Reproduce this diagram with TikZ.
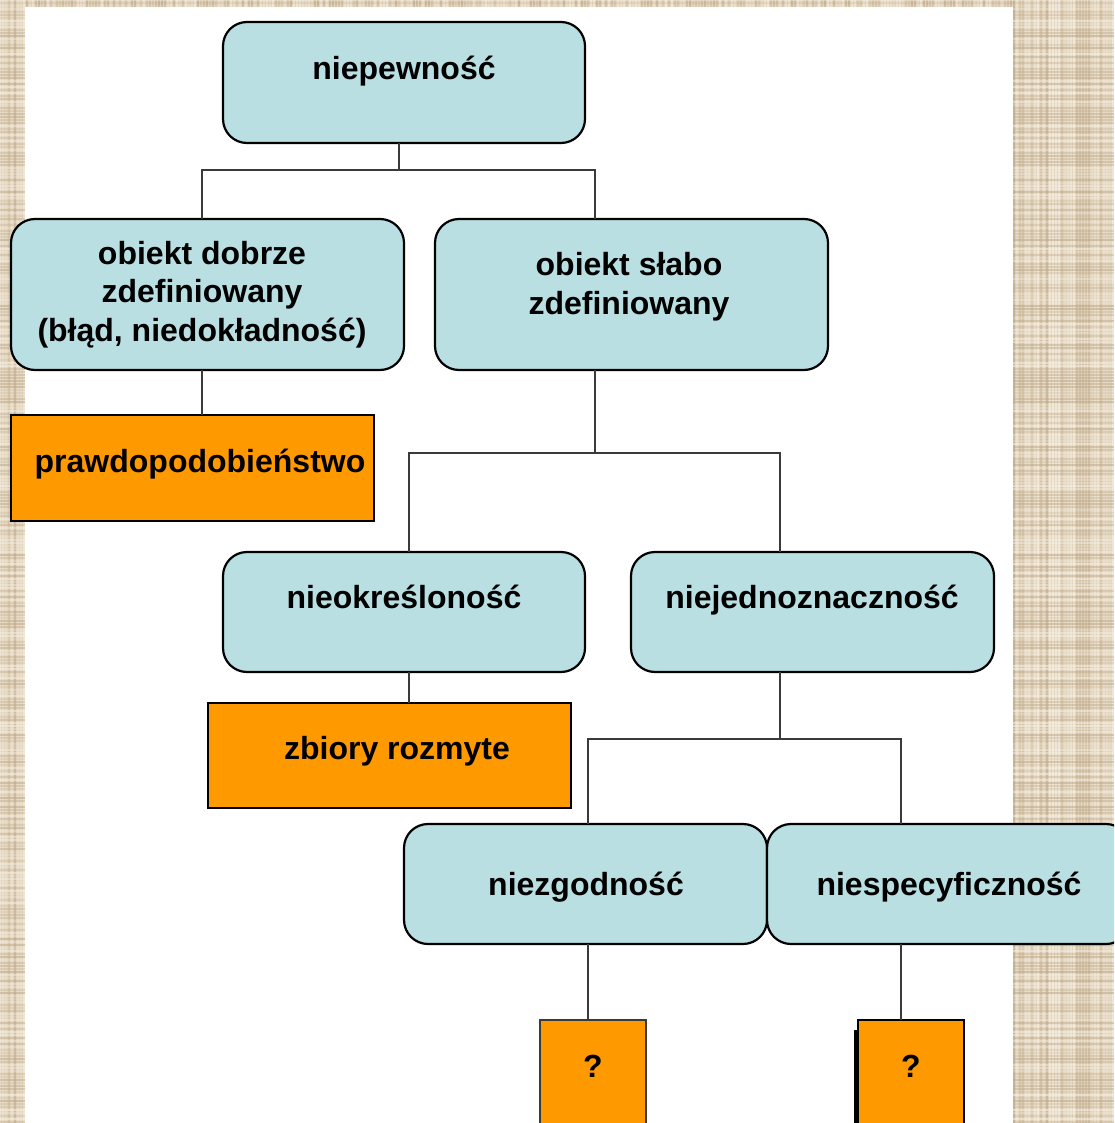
\documentclass[tikz,border=0pt]{standalone}
\usepackage{fontspec}
\setmainfont{Liberation Sans}
\definecolor{paper}{HTML}{E2D3BB}
\definecolor{paperdark}{HTML}{BFAB8E}
\definecolor{paperlight}{HTML}{F5EEE2}
\definecolor{softblue}{HTML}{B9DFE2}
\definecolor{tangerine}{HTML}{FF9900}
\definecolor{wiregray}{HTML}{3A3A3A}
\tikzset{
  rbox/.style={draw=black, line width=2.2pt, fill=softblue, rounded corners=24pt,
    inner sep=0pt, outer sep=0pt},
  obox/.style={draw=black, line width=2pt, fill=tangerine, inner sep=0pt, outer sep=0pt},
  wire/.style={draw=wiregray, line width=2pt},
  lbl/.style={font=\fontsize{32}{38.5}\selectfont\bfseries, inner sep=0pt, align=center, anchor=base},
}
\begin{document}
\begin{tikzpicture}[x=1pt,y=-1pt]
\useasboundingbox (0,0) rectangle (1114,1123);
\clip (0,0) rectangle (1114,1123);

% woven paper backdrop
\fill[paper] (0,0) rectangle (1114,1123);
\pgfmathsetseed{11}
\foreach \i in {0,3,...,1113} {
  \pgfmathsetmacro\o{0.2+0.55*rnd}
  \pgfmathsetmacro\c{rnd}
  \ifdim\c pt<0.5pt
    \draw[paperdark, opacity=\o, line width=1.2pt] (\i,0) -- (\i,1123);
  \else
    \draw[paperlight, opacity=\o, line width=1.2pt] (\i,0) -- (\i,1123);
  \fi
}
\foreach \j in {0,3,...,1122} {
  \pgfmathsetmacro\o{0.15+0.45*rnd}
  \pgfmathsetmacro\c{rnd}
  \ifdim\c pt<0.5pt
    \draw[paperdark, opacity=\o, line width=1.2pt] (0,\j) -- (1114,\j);
  \else
    \draw[paperlight, opacity=\o, line width=1.2pt] (0,\j) -- (1114,\j);
  \fi
}

% white sheet
\fill[white] (25,7) rectangle (1013,1130);

% boxes
\node[rbox, minimum width=362pt, minimum height=121pt] (np) at (404,82.5) {};
\node[rbox, minimum width=393pt, minimum height=151pt] (dobrze) at (207.5,294.5) {};
\node[rbox, minimum width=393pt, minimum height=151pt] (slabo) at (631.5,294.5) {};
\node[obox, minimum width=363pt, minimum height=106pt] (prawd) at (192.5,468) {};
\node[rbox, minimum width=362pt, minimum height=120pt] (nieokr) at (404,612) {};
\node[rbox, minimum width=363pt, minimum height=120pt] (niejedn) at (812.5,612) {};
\node[obox, minimum width=363pt, minimum height=105pt] (zbiory) at (389.5,755.5) {};
\node[rbox, minimum width=363pt, minimum height=120pt] (niezg) at (585.5,884) {};
\node[rbox, minimum width=363pt, minimum height=120pt] (niespec) at (948.5,884) {};
\node[obox, draw=wiregray, line width=1.6pt, minimum width=106pt, minimum height=110pt] (q1) at (593,1075) {};
\coordinate (q2nw) at (858,1020);
\fill[black] ([xshift=-4pt,yshift=-10pt]q2nw) rectangle (858,1130);
\node[obox, line width=2.4pt, minimum width=106pt, minimum height=110pt] (q2) at (911,1075) {};

% connectors
\draw[wire] ([xshift=-5pt]np.south) -- ++(0,27) coordinate (j1);
\draw[wire] ([xshift=-5.5pt]dobrze.north) |- (j1) -| ([xshift=-36.5pt]slabo.north);
\draw[wire] ([xshift=-5.5pt]dobrze.south) -- ([xshift=9.5pt]prawd.north);
\draw[wire] ([xshift=-36.5pt]slabo.south) -- ++(0,83) coordinate (j2);
\draw[wire] ([xshift=5pt]nieokr.north) |- (j2) -| ([xshift=-32.5pt]niejedn.north);
\draw[wire] ([xshift=5pt]nieokr.south) -- ([xshift=19.5pt]zbiory.north);
\draw[wire] ([xshift=-32.5pt]niejedn.south) -- ++(0,67) coordinate (j3);
\draw[wire] ([xshift=2.5pt]niezg.north) |- (j3) -| ([xshift=-47.5pt]niespec.north);
\draw[wire] ([xshift=2.5pt]niezg.south) -- ([xshift=-5pt]q1.north);
\draw[wire] ([xshift=-47.5pt]niespec.south) -- ([xshift=-10pt]q2.north);

% labels (base = baseline of the last line)
\node[lbl] (t-np) at (404,80) {niepewność};
\node[lbl] (t-dobrze) at (202,341) {obiekt dobrze\\zdefiniowany\\(błąd, niedokładność)};
\node[lbl] (t-slabo) at (629,314) {obiekt słabo\\zdefiniowany};
\node[lbl] (t-prawd) at (200,472) {prawdopodobieństwo};
\node[lbl] (t-nieokr) at (404,608) {nieokreśloność};
\node[lbl] (t-niejedn) at (812,608) {niejednoznaczność};
\node[lbl] (t-zbiory) at (397,759) {zbiory rozmyte};
\node[lbl] (t-niezg) at (586,895) {niezgodność};
\node[lbl] (t-niespec) at (949,895) {niespecyficzność};
\node[lbl] (t-q1) at (593,1077) {?};
\node[lbl] (t-q2) at (911,1077) {?};
\end{tikzpicture}
\end{document}
